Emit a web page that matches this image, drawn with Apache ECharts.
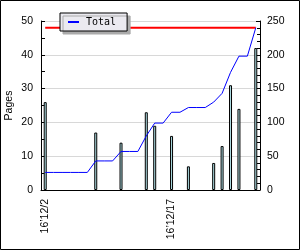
<!DOCTYPE html>
<html><head><meta charset="utf-8">
<script src="https://cdn.jsdelivr.net/npm/echarts@6/dist/echarts.min.js"></script>
<style>html,body{margin:0;padding:0;background:#fff}#c{width:300px;height:250px}</style>
</head><body><div id="c"></div>
<script>
const categories = ["16’12/2","16’12/3","16’12/4","16’12/5","16’12/6","16’12/7","16’12/8","16’12/9","16’12/10","16’12/11","16’12/12","16’12/13","16’12/14","16’12/15","16’12/16","16’12/17","16’12/18","16’12/19","16’12/20","16’12/21","16’12/22","16’12/23","16’12/24","16’12/25","16’12/26","16’12/27"];
const pagesValues = [26,null,null,null,null,null,17,null,null,14,null,null,23,19,null,16,null,7,null,null,8,13,31,24,null,42];
const totalValues = [26,26,26,26,26,26,43,43,43,57,57,57,80,99,99,115,115,122,122,122,130,143,174,198,198,240];
const targetValues = [240,240,240,240,240,240,240,240,240,240,240,240,240,240,240,240,240,240,240,240,240,240,240,240,240,240];
const leftTicks = {min:0, max:50, interval:10};
const rightTicks = {min:0, max:250, interval:50};

const font = 'Liberation Sans';
const chart = echarts.init(document.getElementById('c'), null, {renderer:'canvas'});
chart.setOption({
  animation:false,
  backgroundColor:'#fff',
  graphic:[{type:'rect', shape:{x:0.5,y:0.5,width:299,height:249}, style:{fill:'none', stroke:'#000', lineWidth:1}, z:100}],
  grid:{left:41, right:40, top:21, bottom:60, containLabel:false, outerBoundsMode:'none'},
  legend:{
    data:[{name:'Total', icon:'rect'}],
    left:60, top:13, padding:[4,11,4,8],
    itemWidth:11, itemHeight:2,
    backgroundColor:'#ebeaf0', borderColor:'#000', borderWidth:1,
    shadowColor:'#aaa', shadowBlur:0, shadowOffsetX:3, shadowOffsetY:3,
    textStyle:{fontFamily:'DejaVu Sans Mono', fontSize:10, color:'#000', padding:[0,0,0,2]}
  },
  xAxis:{
    type:'category', data:categories, boundaryGap:true,
    axisLine:{lineStyle:{color:'#000', width:1}},
    axisTick:{inside:true, length:4, interval:0, lineStyle:{color:'#000'}},
    axisLabel:{interval:14, rotate:90, margin:9, fontFamily:font, fontSize:10.5, color:'#000'},
    splitLine:{show:false}
  },
  yAxis:[
    {type:'value', min:leftTicks.min, max:leftTicks.max, interval:leftTicks.interval, position:'left',
     name:'Pages', nameLocation:'middle', nameGap:26, nameMoveOverlap:false,
     nameTextStyle:{fontFamily:font, fontSize:10.5, color:'#000'},
     axisLine:{show:true, lineStyle:{color:'#000'}},
     axisTick:{show:true, inside:true, length:4, lineStyle:{color:'#000'}},
     minorTick:{show:true, splitNumber:2, length:4, lineStyle:{color:'#000'}},
     axisLabel:{margin:8, fontFamily:font, fontSize:10.5, color:'#000'},
     splitLine:{show:true, lineStyle:{color:'#d8d8d8', width:1}}
    },
    {type:'value', min:rightTicks.min, max:rightTicks.max, interval:rightTicks.interval, position:'right',
     axisLine:{show:true, lineStyle:{color:'#000'}},
     axisTick:{show:true, inside:true, length:4, lineStyle:{color:'#000'}},
     minorTick:{show:true, splitNumber:5, length:3, lineStyle:{color:'#000'}},
     axisLabel:{margin:7, fontFamily:font, fontSize:10.5, color:'#000'},
     splitLine:{show:false}
    }
  ],
  series:[
    {name:'Pages', type:'bar', yAxisIndex:0, data:pagesValues, barWidth:3,
     itemStyle:{color:'#b0e0e6', borderColor:'#000', borderWidth:1}},
    {name:'Target', type:'line', yAxisIndex:1, data:targetValues, symbol:'none',
     lineStyle:{color:'#ff0000', width:2}, itemStyle:{color:'#ff0000'}},
    {name:'Total', type:'line', yAxisIndex:1, data:totalValues, symbol:'none',
     lineStyle:{color:'#0000ff', width:1}, itemStyle:{color:'#0000ff'}}
  ]
});
</script></body></html>
